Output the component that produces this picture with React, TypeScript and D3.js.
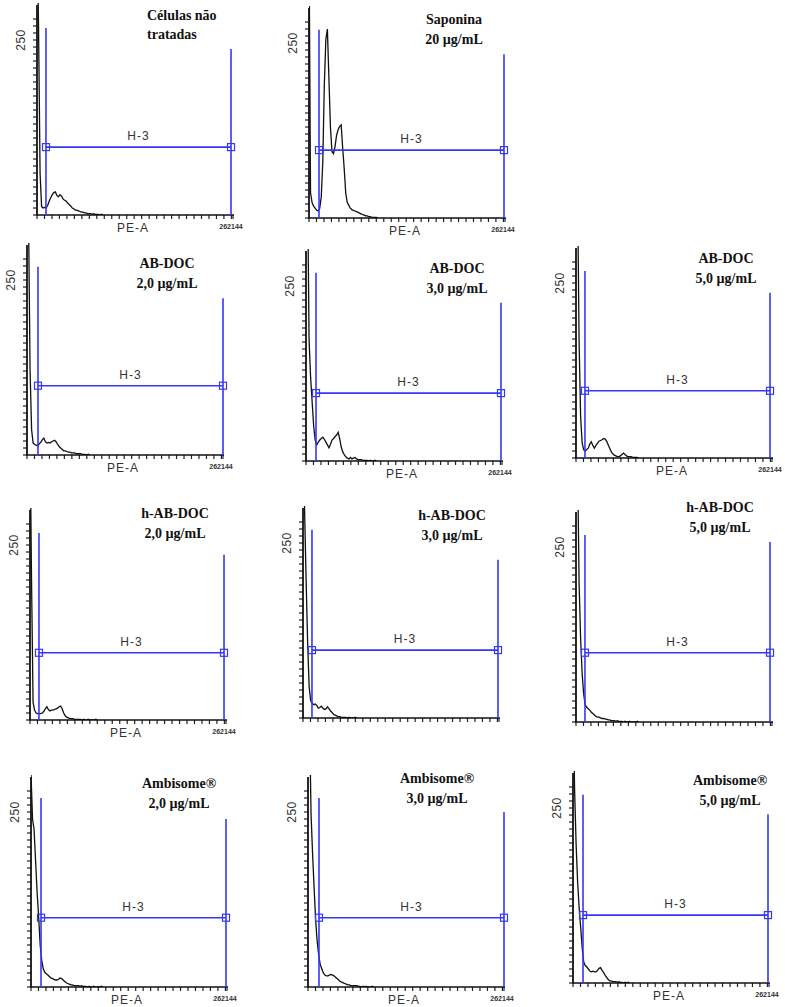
import React from 'react';
import * as d3 from 'd3';

// ---------- data ----------
const PE_MAX = 262144;      // PE-A channel range
const BIN_WIDTH = 2048;     // channels per histogram bin
const COUNT_MAX = 300;      // top of count axis
const COUNT_LABEL = 250;    // labelled count tick

const titlesLine1 = ['Células não', 'Saponina', 'AB-DOC', 'AB-DOC', 'AB-DOC', 'h-AB-DOC', 'h-AB-DOC', 'h-AB-DOC', 'Ambisome®', 'Ambisome®', 'Ambisome®'];
const titlesLine2 = ['tratadas', '20 µg/mL', '2,0 µg/mL', '3,0 µg/mL', '5,0 µg/mL', '2,0 µg/mL', '3,0 µg/mL', '5,0 µg/mL', '2,0 µg/mL', '3,0 µg/mL', '5,0 µg/mL'];
const gateName = 'H-3';
const xAxisName = 'PE-A';
const xMaxLabel = '262144';
const showXLabels = [true, true, true, true, true, true, false, false, true, true, true];

const untreated = [420, 270, 60, 12, 10, 11, 10, 14, 20, 25, 29, 32, 33, 28, 26, 29, 27, 23, 21, 20, 17, 15, 13, 10, 9, 7, 7, 6, 5, 4, 4, 3, 3, 2, 2, 2, 1, 2, 1, 1, 1, 0, 1, 0];
const saponina = [400, 36, 22, 17, 14, 11, 10, 14, 30, 80, 190, 255, 270, 200, 130, 95, 92, 102, 118, 126, 131, 133, 100, 70, 35, 22, 18, 14, 12, 11, 10, 9, 8, 7, 6, 5, 4, 3, 3, 2, 2, 1, 1, 1, 1, 0];
const abDoc2 = [420, 340, 121, 36, 17, 15, 14, 13, 16, 18, 22, 24, 19, 17, 18, 17, 19, 20, 21, 19, 15, 12, 10, 8, 6, 6, 5, 4, 4, 3, 3, 3, 2, 2, 2, 2, 1, 1, 1, 0, 1, 0];
const abDoc3 = [420, 400, 173, 120, 85, 50, 30, 23, 27, 30, 32, 34, 31, 27, 23, 19, 24, 30, 32, 35, 37, 41, 32, 20, 13, 9, 6, 4, 3, 5, 3, 4, 5, 3, 2, 2, 2, 1, 1, 1, 1, 0, 1, 0, 0, 1, 0];
const abDoc5 = [420, 390, 169, 60, 22, 12, 10, 12, 14, 20, 23, 18, 14, 18, 21, 24, 25, 26, 28, 27, 24, 19, 14, 9, 6, 4, 3, 2, 2, 3, 5, 7, 5, 3, 2, 2, 2, 1, 1, 1, 1, 0];
const hAbDoc2 = [420, 200, 25, 14, 10, 9, 9, 9, 10, 12, 16, 19, 15, 13, 14, 14, 15, 16, 17, 19, 20, 16, 10, 6, 4, 3, 2, 2, 2, 1, 1, 1, 1, 1, 0, 1, 0, 0, 1, 0, 0, 0, 0, 1, 0];
const hAbDoc3 = [420, 300, 200, 110, 45, 25, 21, 19, 20, 18, 14, 15, 17, 14, 12, 13, 16, 13, 10, 8, 5, 4, 3, 2, 2, 1, 1, 1, 1, 0, 1, 0, 0, 0, 1, 0];
const hAbDoc5 = [420, 380, 200, 120, 70, 40, 25, 21, 19, 17, 14, 12, 10, 8, 7, 7, 6, 5, 5, 4, 4, 3, 3, 2, 2, 2, 1, 2, 1, 1, 1, 0, 1, 0, 0, 1, 0, 0, 0, 0, 1, 0];
const ambisome2 = [305, 240, 225, 180, 135, 100, 60, 38, 26, 21, 19, 17, 15, 13, 12, 11, 10, 10, 11, 13, 12, 10, 8, 6, 5, 4, 3, 3, 2, 2, 2, 2, 1, 2, 1, 1, 1, 0, 1, 0, 0, 1, 0, 0, 0, 0, 1, 0];
const ambisome3 = [420, 380, 246, 190, 141, 95, 65, 45, 32, 26, 20, 17, 16, 16, 17, 18, 17, 16, 14, 12, 10, 8, 7, 6, 5, 4, 3, 3, 2, 2, 2, 2, 2, 1, 1, 0, 1, 0, 1, 0, 0, 0, 1, 0];
const ambisome5 = [420, 280, 200, 145, 108, 80, 50, 30, 25, 23, 20, 17, 16, 17, 16, 16, 18, 21, 22, 18, 15, 11, 8, 5, 3, 3, 2, 2, 2, 1, 2, 1, 1, 0, 1, 0, 1, 0];

const histograms = [untreated, saponina, abDoc2, abDoc3, abDoc5, hAbDoc2, hAbDoc3, hAbDoc5, ambisome2, ambisome3, ambisome5];

// gate H-3 (PE-A channels and count levels)
const gateLeft = [12000, 13400, 14700, 13400, 12000, 12000, 12000, 12000, 13400, 14700, 13400];
const gateRight = [259500, 260800, 262144, 260800, 259500, 259500, 260800, 259500, 260800, 262144, 260800];
const gateLevel = [97, 97, 99, 97, 96, 96, 97, 99, 99, 99, 97];
const gateLeftTop = [267, 269, 269, 269, 267, 267, 269, 267, 270, 270, 269];
const gateRightTop = [237, 234, 224, 226, 236, 236, 226, 257, 240, 250, 241];

// ---------- layout ----------
const PLOT_W = 196;
const PLOT_H = 210;
// origin of each panel (x of y-axis, y of x-axis)
const origins: [number, number][] = [
  [37, 215], [309, 218],
  [27, 455], [306, 461], [576, 458],
  [30, 720], [303, 718], [576, 722],
  [31, 987], [308, 987], [573, 983],
];
// title anchor: x, baseline y, anchor
const titlePos: [number, number, string][] = [
  [147, 20, 'start'], [454, 24, 'middle'],
  [167, 268, 'middle'], [457, 273, 'middle'], [726, 263, 'middle'],
  [175, 518, 'middle'], [452, 520, 'middle'], [720, 512, 'middle'],
  [179, 788, 'middle'], [437, 783, 'middle'], [730, 785, 'middle'],
];

const BLUE = '#3438f6';
const SANS = '"Liberation Sans", Arial, sans-serif';
const SERIF = '"Liberation Serif", "Times New Roman", serif';

const x = d3.scaleLinear().domain([0, PE_MAX]).range([0, PLOT_W]);
const y = d3.scaleLinear().domain([0, COUNT_MAX]).range([PLOT_H, 0]);
const yTicks = d3.range(0, 290, 10);
const xTicks = d3.range(0, PE_MAX, 10000).concat([PE_MAX]);

const line = d3
  .line<number>()
  .x((_, i) => x(i * BIN_WIDTH))
  .y((d) => y(d));

function Panel({ idx }: { idx: number }) {
  const [ox, oy] = origins[idx];
  const data = histograms[idx];
  const gl = x(gateLeft[idx]);
  const gr = x(gateRight[idx]);
  const gy = y(gateLevel[idx]);
  const sq = 7;
  const clipId = `clip-${idx}`;
  return (
    <g transform={`translate(${ox},${oy - PLOT_H})`}>
      <defs>
        <clipPath id={clipId}>
          <rect x={0} y={-2} width={PLOT_W + 2} height={PLOT_H + 2} />
        </clipPath>
      </defs>
      {/* y ticks */}
      {yTicks.map((t) => (
        <line key={`y${t}`} x1={-4} x2={0} y1={y(t)} y2={y(t)} stroke="#222" strokeWidth={1.2} />
      ))}
      {/* x ticks */}
      {xTicks.map((t) => (
        <line key={`x${t}`} x1={x(t)} x2={x(t)} y1={PLOT_H} y2={PLOT_H + 4} stroke="#222" strokeWidth={1.2} />
      ))}
      {/* histogram */}
      <path d={line(data) || ''} fill="none" stroke="#111" strokeWidth={1.3} clipPath={`url(#${clipId})`} />
      {/* axes */}
      <line x1={0} x2={0} y1={0} y2={PLOT_H} stroke="#111" strokeWidth={1.8} />
      <line x1={-1} x2={PLOT_W + 1} y1={PLOT_H} y2={PLOT_H} stroke="#111" strokeWidth={1.6} />
      {/* 250 label */}
      <text
        transform={`translate(${-12},${y(COUNT_LABEL)}) rotate(-90)`}
        textAnchor="middle"
        fontFamily={SANS}
        fontSize={12}
        letterSpacing={0.5}
        fill="#333"
      >
        {COUNT_LABEL}
      </text>
      {/* gate */}
      <g stroke={BLUE} strokeWidth={1.6} fill="none">
        <line x1={gl} x2={gl} y1={y(gateLeftTop[idx])} y2={PLOT_H} />
        <line x1={gr} x2={gr} y1={y(gateRightTop[idx])} y2={PLOT_H} />
        <line x1={gl} x2={gr} y1={gy} y2={gy} />
        <rect x={gl - sq / 2} y={gy - sq / 2} width={sq} height={sq} strokeWidth={1.2} />
        <rect x={gr - sq / 2} y={gy - sq / 2} width={sq} height={sq} strokeWidth={1.2} />
      </g>
      <text x={(gl + gr) / 2} y={gy - 7} textAnchor="middle" fontFamily={SANS} fontSize={12} letterSpacing={1} fill="#333">
        {gateName}
      </text>
      {showXLabels[idx] && (
        <>
          <text x={PLOT_W / 2 - 2} y={PLOT_H + 17} textAnchor="middle" fontFamily={SANS} fontSize={12} letterSpacing={1} fill="#333">
            {xAxisName}
          </text>
          <text
            x={PLOT_W - 2}
            y={PLOT_H + 14}
            textAnchor="middle"
            fontFamily={SANS}
            fontSize={7}
            fontWeight="bold"
            fill="#333"
          >
            {xMaxLabel}
          </text>
        </>
      )}
    </g>
  );
}

export default function App() {
  return (
    <svg
      width={785}
      height={1007}
      viewBox="0 0 785 1007"
      style={{ position: 'absolute', left: 0, top: 0, background: '#fff' }}
    >
      <rect width={785} height={1007} fill="#fff" />
      {histograms.map((_, i) => (
        <Panel key={i} idx={i} />
      ))}
      {titlePos.map(([tx, ty, anchor], i) => (
        <text
          key={`t${i}`}
          x={tx}
          textAnchor={anchor}
          fontFamily={SERIF}
          fontWeight="bold"
          fontSize={14}
          fill="#111"
        >
          <tspan x={tx} y={ty}>{titlesLine1[i]}</tspan>
          <tspan x={tx} y={ty + (i === 0 ? 19 : 20)}>{titlesLine2[i]}</tspan>
        </text>
      ))}
    </svg>
  );
}
